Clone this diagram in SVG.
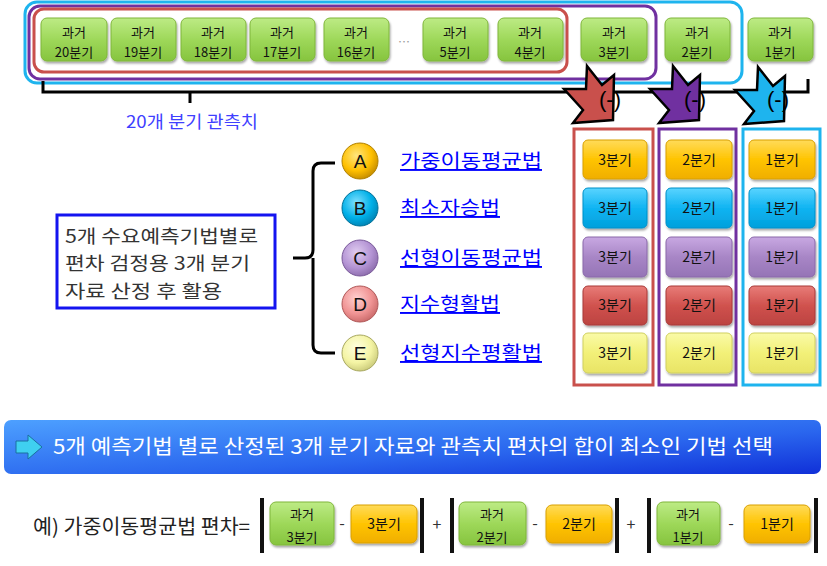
<svg xmlns="http://www.w3.org/2000/svg" width="827" height="566" viewBox="0 0 827 566">
<defs>
<style>
text{font-family:"Noto Sans CJK KR","Noto Sans",sans-serif;}
.t{font-size:13px;fill:#111;text-anchor:middle;}
.q{font-size:14px;fill:#111;text-anchor:middle;}
.lbl{font-size:19px;fill:#0000ff;text-decoration:underline;}
.let{font-size:19px;fill:#111;text-anchor:middle;font-family:"Liberation Sans",sans-serif;}
.pm{font-size:22px;fill:#000;font-family:"Liberation Sans",sans-serif;}
.gb{fill:url(#gG);stroke:#7FB63A;stroke-width:1;}
.ob{fill:url(#gO);stroke:#D9A000;stroke-width:1;}
.cb{fill:url(#gC);stroke:#0090C8;stroke-width:1;}
.pb{fill:url(#gP);stroke:#8A68AA;stroke-width:1;}
.rb{fill:url(#gR);stroke:#A83A38;stroke-width:1;}
.yb{fill:url(#gY);stroke:#D0D060;stroke-width:1;}
.ln{fill:none;stroke:#000;stroke-width:3;}
.bar{fill:#111;}
</style>
<filter id="sh" x="-10%" y="-10%" width="130%" height="140%"><feDropShadow dx="1" dy="2" stdDeviation="1.2" flood-color="#000" flood-opacity="0.35"/></filter>
<linearGradient id="gG" x1="0" y1="0" x2="0" y2="1"><stop offset="0" stop-color="#BDEB85"/><stop offset="0.5" stop-color="#9ED85A"/><stop offset="1" stop-color="#86C43E"/></linearGradient>
<linearGradient id="gO" x1="0" y1="0" x2="0" y2="1"><stop offset="0" stop-color="#FFDB5A"/><stop offset="0.5" stop-color="#FFC400"/><stop offset="1" stop-color="#F0AE00"/></linearGradient>
<linearGradient id="gC" x1="0" y1="0" x2="0" y2="1"><stop offset="0" stop-color="#5AD4FF"/><stop offset="0.5" stop-color="#10B4F2"/><stop offset="1" stop-color="#00A0DC"/></linearGradient>
<linearGradient id="gP" x1="0" y1="0" x2="0" y2="1"><stop offset="0" stop-color="#C8A8E2"/><stop offset="0.5" stop-color="#A886C6"/><stop offset="1" stop-color="#9574B6"/></linearGradient>
<linearGradient id="gR" x1="0" y1="0" x2="0" y2="1"><stop offset="0" stop-color="#E87C78"/><stop offset="0.5" stop-color="#D0524E"/><stop offset="1" stop-color="#BC4340"/></linearGradient>
<linearGradient id="gY" x1="0" y1="0" x2="0" y2="1"><stop offset="0" stop-color="#FAFAA8"/><stop offset="0.5" stop-color="#F2F078"/><stop offset="1" stop-color="#E8E466"/></linearGradient>
<linearGradient id="gBar" x1="0" y1="0" x2="1" y2="1"><stop offset="0" stop-color="#4DA0FF"/><stop offset="0.6" stop-color="#2A66EE"/><stop offset="1" stop-color="#1030D8"/></linearGradient>
<radialGradient id="cA" cx="0.4" cy="0.35" r="0.7"><stop offset="0" stop-color="#FFE680"/><stop offset="0.6" stop-color="#FFC000"/><stop offset="1" stop-color="#C08800"/></radialGradient>
<radialGradient id="cB" cx="0.4" cy="0.35" r="0.7"><stop offset="0" stop-color="#80E0FF"/><stop offset="0.6" stop-color="#00B0E8"/><stop offset="1" stop-color="#0080B0"/></radialGradient>
<radialGradient id="cC" cx="0.4" cy="0.35" r="0.7"><stop offset="0" stop-color="#E0CCF0"/><stop offset="0.6" stop-color="#B494D4"/><stop offset="1" stop-color="#8A6AAA"/></radialGradient>
<radialGradient id="cD" cx="0.4" cy="0.35" r="0.7"><stop offset="0" stop-color="#FFD0D0"/><stop offset="0.6" stop-color="#F09494"/><stop offset="1" stop-color="#C86868"/></radialGradient>
<radialGradient id="cE" cx="0.4" cy="0.35" r="0.7"><stop offset="0" stop-color="#FFFFE0"/><stop offset="0.6" stop-color="#F4F4A4"/><stop offset="1" stop-color="#C8C878"/></radialGradient>
<path id="star" d="M23,1 L38,20 L50,10 L49,55 L9,58 L19,45 L0,24 L22,24 Z" stroke="#000" stroke-width="2.5" stroke-linejoin="miter"/>
</defs>
<rect width="827" height="566" fill="#fff"/>

<g id="frames" fill="none" stroke-width="3">
<rect x="25" y="2" width="717" height="81" rx="12" stroke="#1EB4EE"/>
<rect x="29" y="6" width="627" height="73" rx="11" stroke="#7030A0"/>
<rect x="34" y="9" width="533" height="63" rx="10" stroke="#C9504C"/>
</g>

<g id="connectors">
<path class="ln" d="M43,81 V92 H808 V79"/>
<path class="ln" d="M190,92 V103"/>
<path class="ln" d="M293,258 H305 Q313,258 313,250 V171 Q313,163 321,163 H335 M313,258 V345 Q313,353 321,353 H335"/>
</g>

<g id="past-boxes" filter="url(#sh)">
<rect class="gb" x="41" y="18" width="66" height="43" rx="6"/>
<rect class="gb" x="111" y="18" width="65" height="43" rx="6"/>
<rect class="gb" x="181" y="18" width="65" height="43" rx="6"/>
<rect class="gb" x="250" y="18" width="65" height="43" rx="6"/>
<rect class="gb" x="324" y="18" width="65" height="43" rx="6"/>
<rect class="gb" x="423" y="18" width="65" height="43" rx="6"/>
<rect class="gb" x="498" y="18" width="65" height="43" rx="6"/>
<rect class="gb" x="581" y="18" width="66" height="43" rx="6"/>
<rect class="gb" x="665" y="18" width="65" height="43" rx="6"/>
<rect class="gb" x="748" y="18" width="65" height="43" rx="6"/>
</g>
<g id="past-labels">
<text class="t" x="74" y="37">과거</text><text class="t" x="74" y="57">20분기</text>
<text class="t" x="143" y="37">과거</text><text class="t" x="143" y="57">19분기</text>
<text class="t" x="213" y="37">과거</text><text class="t" x="213" y="57">18분기</text>
<text class="t" x="282" y="37">과거</text><text class="t" x="282" y="57">17분기</text>
<text class="t" x="356" y="37">과거</text><text class="t" x="356" y="57">16분기</text>
<text x="404" y="47" font-size="12" fill="#999" text-anchor="middle" font-family="Liberation Sans,sans-serif">…</text>
<text class="t" x="455" y="37">과거</text><text class="t" x="455" y="57">5분기</text>
<text class="t" x="530" y="37">과거</text><text class="t" x="530" y="57">4분기</text>
<text class="t" x="614" y="37">과거</text><text class="t" x="614" y="57">3분기</text>
<text class="t" x="697" y="37">과거</text><text class="t" x="697" y="57">2분기</text>
<text class="t" x="780" y="37">과거</text><text class="t" x="780" y="57">1분기</text>
</g>

<text x="192" y="128" font-size="17" fill="#4040FF" text-anchor="middle" textLength="132" lengthAdjust="spacingAndGlyphs">20개 분기 관측치</text>

<g id="minus-arrows">
<use href="#star" x="564" y="65" fill="#C9504C"/>
<use href="#star" x="650" y="65" fill="#7030A0"/>
<use href="#star" x="735" y="66" fill="#1EB4EE"/>
<text class="pm" x="599" y="107">(-)</text>
<text class="pm" x="684" y="107">(-)</text>
<text class="pm" x="767" y="107">(-)</text>
</g>

<g id="info-box">
<rect x="57" y="215" width="218" height="93" fill="#fff" stroke="#1414F0" stroke-width="3"/>
<text x="65" y="243" font-size="18" fill="#333" textLength="193" lengthAdjust="spacingAndGlyphs">5개 수요예측기법별로</text>
<text x="65" y="270" font-size="18" fill="#333" textLength="185" lengthAdjust="spacingAndGlyphs">편차 검정용 3개 분기</text>
<text x="65" y="298" font-size="18" fill="#333" textLength="157" lengthAdjust="spacingAndGlyphs">자료 산정 후 활용</text>
</g>

<g id="methods">
<g id="m-A"><circle cx="360" cy="161" r="18" fill="url(#cA)" stroke="#B08000" stroke-width="1"/><text class="let" x="360" y="168">A</text><text class="lbl" x="400" y="168" textLength="142" lengthAdjust="spacingAndGlyphs">가중이동평균법</text></g>
<g id="m-B"><circle cx="360" cy="208" r="18" fill="url(#cB)" stroke="#007098" stroke-width="1"/><text class="let" x="360" y="215">B</text><text class="lbl" x="400" y="215" textLength="100" lengthAdjust="spacingAndGlyphs">최소자승법</text></g>
<g id="m-C"><circle cx="360" cy="258" r="18" fill="url(#cC)" stroke="#7A5A9A" stroke-width="1"/><text class="let" x="360" y="265">C</text><text class="lbl" x="400" y="265" textLength="142" lengthAdjust="spacingAndGlyphs">선형이동평균법</text></g>
<g id="m-D"><circle cx="360" cy="304" r="18" fill="url(#cD)" stroke="#B05858" stroke-width="1"/><text class="let" x="360" y="311">D</text><text class="lbl" x="400" y="311" textLength="100" lengthAdjust="spacingAndGlyphs">지수형활법</text></g>
<g id="m-E"><circle cx="360" cy="353" r="18" fill="url(#cE)" stroke="#A8A860" stroke-width="1"/><text class="let" x="360" y="360">E</text><text class="lbl" x="400" y="360" textLength="142" lengthAdjust="spacingAndGlyphs">선형지수평활법</text></g>
</g>

<g id="columns" fill="none" stroke-width="3">
<rect x="574" y="129" width="79" height="256" stroke="#C9504C"/>
<rect x="659" y="129" width="77" height="256" stroke="#7030A0"/>
<rect x="743" y="129" width="77" height="256" stroke="#1EB4EE"/>
</g>
<g id="col-boxes" filter="url(#sh)">
<rect class="ob" x="583" y="140" width="64" height="39" rx="5"/>
<rect class="cb" x="583" y="188" width="64" height="40" rx="5"/>
<rect class="pb" x="583" y="237" width="64" height="40" rx="5"/>
<rect class="rb" x="583" y="286" width="64" height="39" rx="5"/>
<rect class="yb" x="583" y="333" width="64" height="40" rx="5"/>
<rect class="ob" x="666" y="140" width="66" height="39" rx="5"/>
<rect class="cb" x="666" y="188" width="66" height="40" rx="5"/>
<rect class="pb" x="666" y="237" width="66" height="40" rx="5"/>
<rect class="rb" x="666" y="286" width="66" height="39" rx="5"/>
<rect class="yb" x="666" y="333" width="66" height="40" rx="5"/>
<rect class="ob" x="749" y="140" width="66" height="39" rx="5"/>
<rect class="cb" x="749" y="188" width="66" height="40" rx="5"/>
<rect class="pb" x="749" y="237" width="66" height="40" rx="5"/>
<rect class="rb" x="749" y="286" width="66" height="39" rx="5"/>
<rect class="yb" x="749" y="333" width="66" height="40" rx="5"/>
</g>
<g id="col-labels">
<text class="q" x="615" y="165">3분기</text><text class="q" x="615" y="213">3분기</text><text class="q" x="615" y="262">3분기</text><text class="q" x="615" y="310">3분기</text><text class="q" x="615" y="358">3분기</text>
<text class="q" x="699" y="165">2분기</text><text class="q" x="699" y="213">2분기</text><text class="q" x="699" y="262">2분기</text><text class="q" x="699" y="310">2분기</text><text class="q" x="699" y="358">2분기</text>
<text class="q" x="782" y="165">1분기</text><text class="q" x="782" y="213">1분기</text><text class="q" x="782" y="262">1분기</text><text class="q" x="782" y="310">1분기</text><text class="q" x="782" y="358">1분기</text>
</g>

<g id="banner">
<rect x="4" y="420" width="817" height="54" rx="7" fill="url(#gBar)"/>
<path d="M16,441 H28 V435 L42,447 L28,459 V453 H16 Z" fill="#3FD0F0" stroke="#1A70A0" stroke-width="1"/>
<text x="53" y="454" font-size="20" fill="#fff" textLength="720" lengthAdjust="spacingAndGlyphs">5개 예측기법 별로 산정된 3개 분기 자료와 관측치 편차의 합이 최소인 기법 선택</text>
</g>

<g id="formula">
<text x="33" y="534" font-size="20" fill="#222" textLength="217" lengthAdjust="spacingAndGlyphs">예) 가중이동평균법 편차=</text>
<rect class="bar" x="260" y="498" width="4" height="55"/>
<rect class="bar" x="420" y="498" width="4" height="55"/>
<rect class="bar" x="450" y="498" width="4" height="55"/>
<rect class="bar" x="615" y="498" width="4" height="55"/>
<rect class="bar" x="647" y="498" width="4" height="55"/>
<rect class="bar" x="814" y="498" width="4" height="55"/>
<g filter="url(#sh)">
<rect class="gb" x="270" y="502" width="64" height="43" rx="6"/>
<rect class="ob" x="351" y="505" width="66" height="38" rx="6"/>
<rect class="gb" x="459" y="502" width="67" height="43" rx="6"/>
<rect class="ob" x="546" y="505" width="66" height="38" rx="6"/>
<rect class="gb" x="657" y="502" width="63" height="43" rx="6"/>
<rect class="ob" x="744" y="505" width="66" height="38" rx="6"/>
</g>
<text class="t" x="302" y="519">과거</text><text class="t" x="302" y="542">3분기</text>
<text class="q" x="384" y="529">3분기</text>
<text class="t" x="492" y="519">과거</text><text class="t" x="492" y="542">2분기</text>
<text class="q" x="579" y="529">2분기</text>
<text class="t" x="688" y="519">과거</text><text class="t" x="688" y="542">1분기</text>
<text class="q" x="777" y="529">1분기</text>
<text x="342" y="529" font-size="16" fill="#333" text-anchor="middle">-</text>
<text x="437" y="530" font-size="16" fill="#333" text-anchor="middle">+</text>
<text x="535" y="529" font-size="16" fill="#333" text-anchor="middle">-</text>
<text x="631" y="530" font-size="16" fill="#333" text-anchor="middle">+</text>
<text x="731" y="529" font-size="16" fill="#333" text-anchor="middle">-</text>
</g>
</svg>
